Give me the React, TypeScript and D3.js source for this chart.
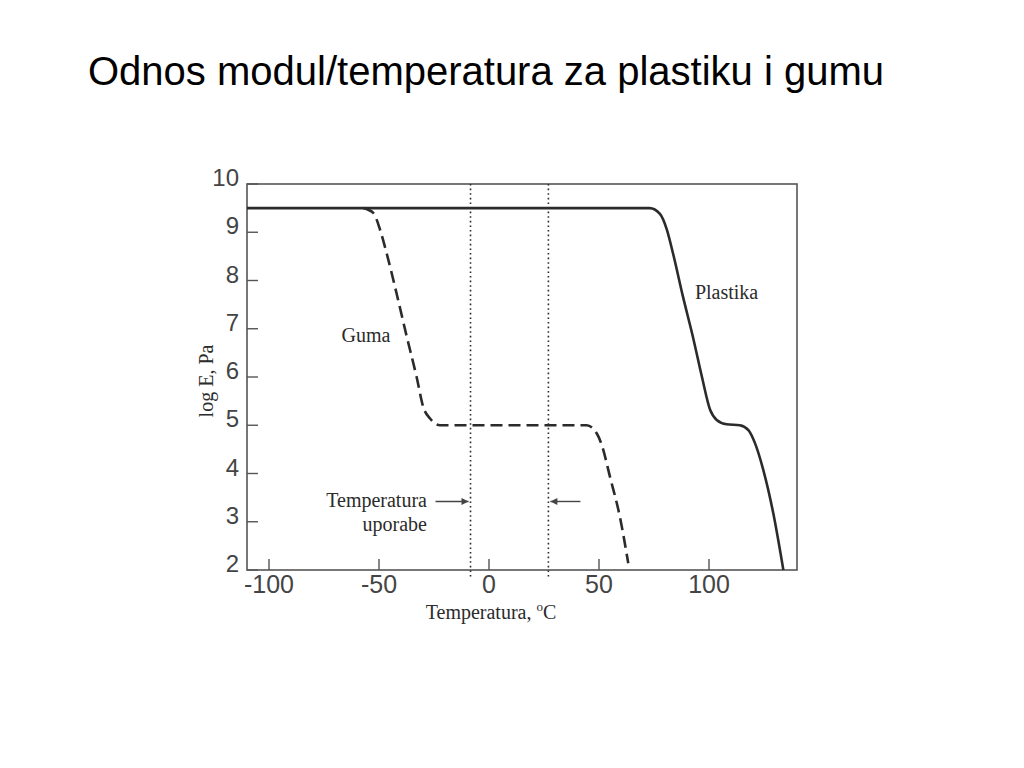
import { useEffect, useRef } from 'react';
import * as d3 from 'd3';

// Temperature (°C) vs log E (Pa)
const plastikaTemp = [-110, 73, 77.7, 80.8, 83.6, 88.2, 92.7, 96.8, 100.5, 103.5, 108, 114, 117.9, 120.9, 124.7, 129.2, 133.8];
const plastikaLogE = [9.5, 9.5, 9.38, 9.06, 8.57, 7.66, 6.83, 6.0, 5.32, 5.11, 5.02, 5.0, 4.9, 4.63, 4.07, 3.18, 2.0];

const gumaTemp = [-57, -52.6, -49.5, -46.5, -42, -37.4, -32.9, -29.9, -26.8, -22.3, 44.4, 49, 51.2, 55, 59.5, 63.3];
const gumaLogE = [9.5, 9.4, 9.05, 8.56, 7.73, 6.84, 6.0, 5.38, 5.14, 5.0, 5.0, 4.83, 4.6, 3.93, 3.1, 2.14];

const xTicks = [-100, -50, 0, 50, 100];
const yTicks = [2, 3, 4, 5, 6, 7, 8, 9, 10];

// service temperature range (dotted lines)
const useTemps = [-8.4, 27];

export default function App() {
  const svgRef = useRef<SVGSVGElement>(null);

  useEffect(() => {
    if (!svgRef.current) return;
    const svg = d3.select(svgRef.current);
    svg.selectAll('*').remove();

    const left = 247;
    const right = 797;
    const top = 184;
    const bottom = 570;

    const x = d3.scaleLinear().domain([-110, 140]).range([left, right]);
    const y = d3.scaleLinear().domain([2, 10]).range([bottom, top]);

    const ink = '#2b2b2b';
    const serif = '"Liberation Serif", "Times New Roman", serif';
    const sans = '"Liberation Sans", Arial, sans-serif';

    svg.append('rect').attr('width', 1024).attr('height', 768).attr('fill', '#fff');

    // Title
    svg.append('text')
      .attr('x', 88)
      .attr('y', 85)
      .attr('font-family', sans)
      .attr('font-size', 40)
      .attr('fill', '#000')
      .text('Odnos modul/temperatura za plastiku i gumu');

    // arrow marker
    svg.append('defs')
      .append('marker')
      .attr('id', 'arrow')
      .attr('viewBox', '0 0 10 10')
      .attr('refX', 10)
      .attr('refY', 5)
      .attr('markerWidth', 9)
      .attr('markerHeight', 7)
      .attr('markerUnits', 'userSpaceOnUse')
      .attr('orient', 'auto')
      .append('path')
      .attr('d', 'M0,0 L10,5 L0,10 Z')
      .attr('fill', '#444');

    // Frame
    svg.append('rect')
      .attr('x', left)
      .attr('y', top)
      .attr('width', right - left)
      .attr('height', bottom - top)
      .attr('fill', 'none')
      .attr('stroke', '#555')
      .attr('stroke-width', 1.6);

    // Y ticks (inward) + labels
    svg.selectAll('.ytick')
      .data(yTicks)
      .join('line')
      .attr('x1', left)
      .attr('x2', left + 11)
      .attr('y1', (d) => y(d))
      .attr('y2', (d) => y(d))
      .attr('stroke', '#555')
      .attr('stroke-width', 1.4);

    svg.selectAll('.ylab')
      .data(yTicks)
      .join('text')
      .attr('x', 239)
      .attr('y', (d) => y(d) + 2)
      .attr('text-anchor', 'end')
      .attr('font-family', sans)
      .attr('font-size', 24)
      .attr('fill', '#444')
      .text((d) => d);

    // X ticks (inward) + labels
    svg.selectAll('.xtick')
      .data(xTicks)
      .join('line')
      .attr('x1', (d) => x(d))
      .attr('x2', (d) => x(d))
      .attr('y1', bottom)
      .attr('y2', bottom - 11)
      .attr('stroke', '#555')
      .attr('stroke-width', 1.4);

    svg.selectAll('.xlab')
      .data(xTicks)
      .join('text')
      .attr('x', (d) => x(d))
      .attr('y', bottom + 23)
      .attr('text-anchor', 'middle')
      .attr('font-family', sans)
      .attr('font-size', 25)
      .attr('fill', '#444')
      .text((d) => d);

    // Axis titles
    const xt = svg.append('text')
      .attr('x', 491)
      .attr('y', 619)
      .attr('text-anchor', 'middle')
      .attr('font-family', serif)
      .attr('font-size', 20)
      .attr('fill', ink);
    xt.append('tspan').text('Temperatura, ');
    xt.append('tspan').attr('font-size', 13).attr('dy', -8).text('o');
    xt.append('tspan').attr('dy', 8).text('C');

    svg.append('text')
      .attr('transform', 'translate(213,381) rotate(-90)')
      .attr('text-anchor', 'middle')
      .attr('font-family', serif)
      .attr('font-size', 20)
      .attr('fill', ink)
      .text('log E, Pa');

    // Dotted service-temperature lines
    svg.selectAll('.useline')
      .data(useTemps)
      .join('line')
      .attr('x1', (d) => x(d))
      .attr('x2', (d) => x(d))
      .attr('y1', top)
      .attr('y2', bottom + 8)
      .attr('stroke', ink)
      .attr('stroke-width', 1.6)
      .attr('stroke-dasharray', '1.6,3');

    // Curves
    const line = d3.line<[number, number]>()
      .x((d) => x(d[0]))
      .y((d) => y(d[1]))
      .curve(d3.curveMonotoneX);

    const plastika = plastikaTemp.map((t, i) => [t, plastikaLogE[i]] as [number, number]);
    const guma = gumaTemp.map((t, i) => [t, gumaLogE[i]] as [number, number]);

    svg.append('path')
      .attr('d', line(plastika))
      .attr('fill', 'none')
      .attr('stroke', ink)
      .attr('stroke-width', 2.6);

    svg.append('path')
      .attr('d', line(guma))
      .attr('fill', 'none')
      .attr('stroke', ink)
      .attr('stroke-width', 2.6)
      .attr('stroke-dasharray', '12,6');

    // Labels for curves
    svg.append('text')
      .attr('x', x(-67))
      .attr('y', y(6.73))
      .attr('font-family', serif)
      .attr('font-size', 20)
      .attr('fill', ink)
      .text('Guma');

    svg.append('text')
      .attr('x', x(93.6))
      .attr('y', y(7.62))
      .attr('font-family', serif)
      .attr('font-size', 20)
      .attr('fill', ink)
      .text('Plastika');

    // "Temperatura uporabe" annotation with arrows
    svg.append('text')
      .attr('x', x(-28.2))
      .attr('y', y(3.31))
      .attr('text-anchor', 'end')
      .attr('font-family', serif)
      .attr('font-size', 20)
      .attr('fill', ink)
      .text('Temperatura');

    svg.append('text')
      .attr('x', x(-28.2))
      .attr('y', y(2.8))
      .attr('text-anchor', 'end')
      .attr('font-family', serif)
      .attr('font-size', 20)
      .attr('fill', ink)
      .text('uporabe');

    const arrowY = y(3.42);
    svg.append('line')
      .attr('x1', x(useTemps[0]) - 35)
      .attr('x2', x(useTemps[0]) - 2)
      .attr('y1', arrowY)
      .attr('y2', arrowY)
      .attr('stroke', '#444')
      .attr('stroke-width', 1.4)
      .attr('marker-end', 'url(#arrow)');

    svg.append('line')
      .attr('x1', x(useTemps[1]) + 32)
      .attr('x2', x(useTemps[1]) + 2)
      .attr('y1', arrowY)
      .attr('y2', arrowY)
      .attr('stroke', '#444')
      .attr('stroke-width', 1.4)
      .attr('marker-end', 'url(#arrow)');
  }, []);

  return (
    <svg
      ref={svgRef}
      width={1024}
      height={768}
      style={{ position: 'absolute', left: 0, top: 0 }}
    />
  );
}
